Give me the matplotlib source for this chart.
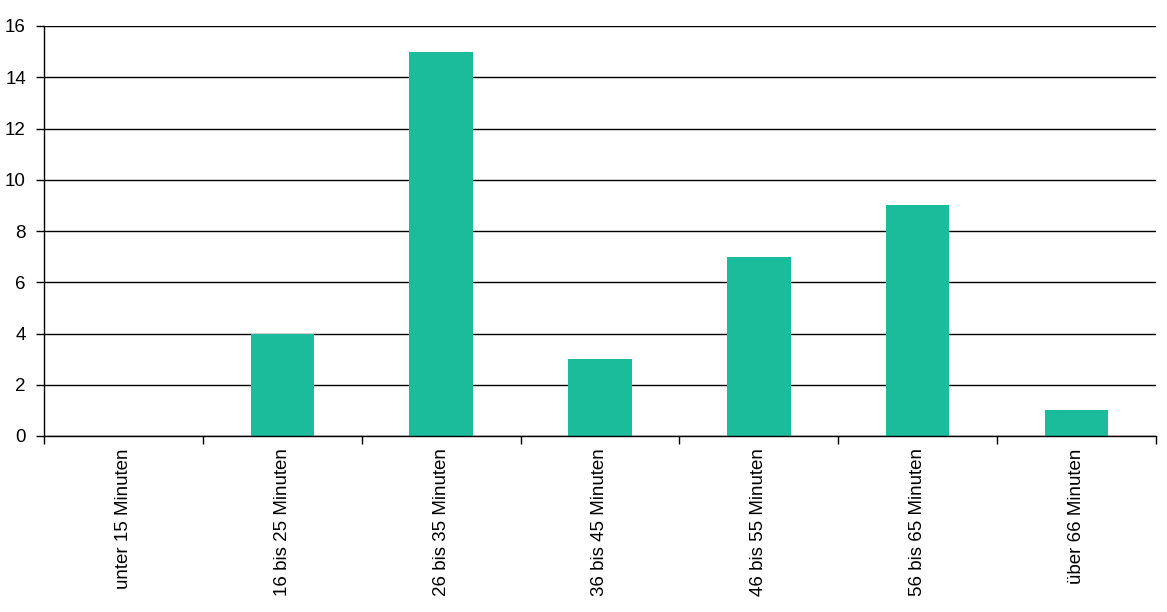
import numpy as np
import matplotlib.pyplot as plt
from matplotlib.ticker import MultipleLocator, FixedLocator
plt.switch_backend("Agg")

plt.rcParams["font.family"] = ["Liberation Sans", "DejaVu Sans"]

categories = ["unter 15 Minuten", "16 bis 25 Minuten", "26 bis 35 Minuten",
              "36 bis 45 Minuten", "46 bis 55 Minuten", "56 bis 65 Minuten",
              "über 66 Minuten"]
values = [0, 4, 15, 3, 7, 9, 1]

fig = plt.figure(figsize=(11.67, 6.12), dpi=100)
ax = fig.add_axes([44 / 1167, 1 - 436 / 612, (1156 - 44) / 1167, (436 - 26) / 612])

x = np.arange(len(categories))
ax.bar(x, values, width=0.4, color="#1ABC9C", zorder=3)

ax.set_xlim(-0.5, len(categories) - 0.5)
ax.set_ylim(0, 16)
ax.yaxis.set_major_locator(MultipleLocator(2))
ax.grid(axis="y", color="black", linewidth=1, zorder=0)

ax.set_xticks(x)
ax.set_xticklabels(categories, rotation=90, fontsize=13.5)
ax.tick_params(axis="x", which="major", length=0, pad=9)
ax.xaxis.set_minor_locator(FixedLocator(np.arange(-0.5, len(categories), 1.0)))
ax.tick_params(axis="x", which="minor", length=6, width=1, color="black")
ax.tick_params(axis="y", length=6, width=1, labelsize=13.5, pad=7)

for s in ["top", "right"]:
    ax.spines[s].set_visible(False)
for s in ["left", "bottom"]:
    ax.spines[s].set_color("black")
    ax.spines[s].set_linewidth(1)
    ax.spines[s].set_zorder(4)

fig.savefig("out.png", dpi=100)
